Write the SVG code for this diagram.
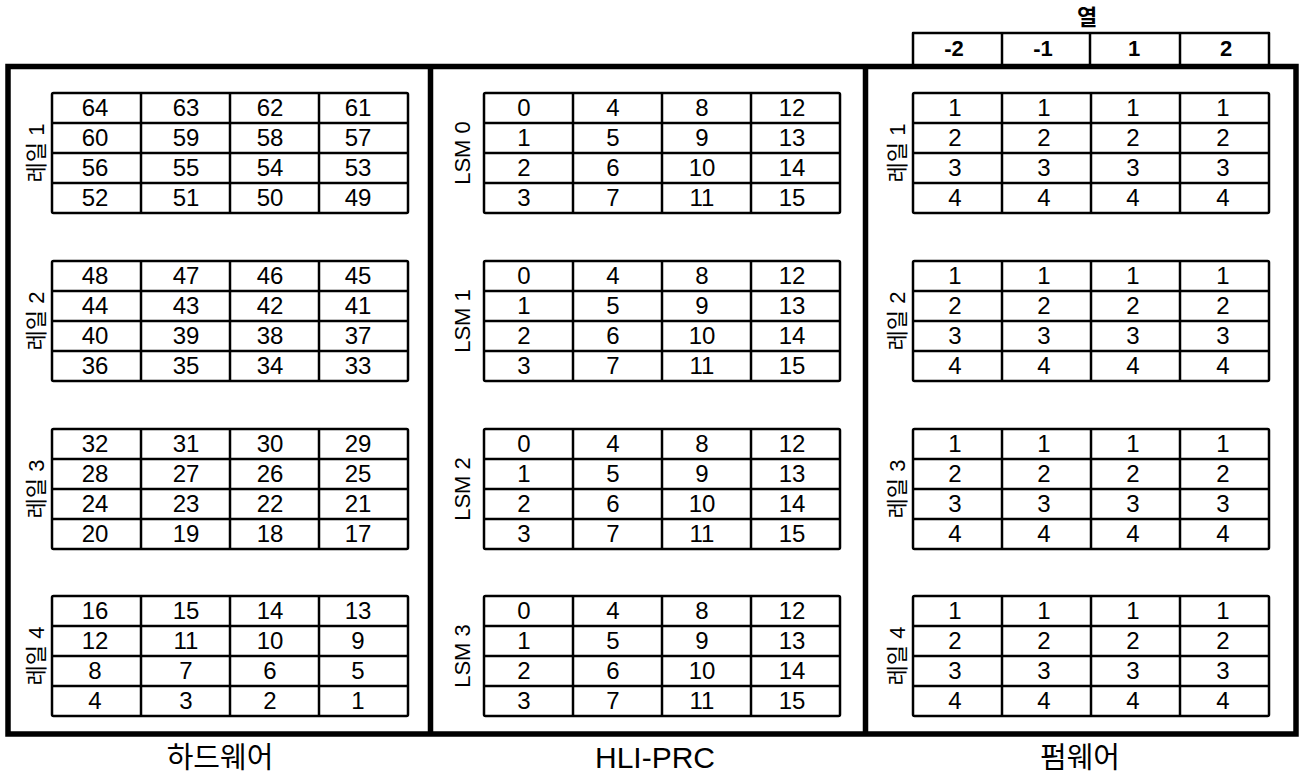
<svg xmlns="http://www.w3.org/2000/svg" xmlns:xlink="http://www.w3.org/1999/xlink" width="1299" height="776" viewBox="0 0 1299 776">
<style>
.n{font-family:"Liberation Sans",Arial,sans-serif;font-size:24px;text-anchor:middle;fill:#000}
.h{font-family:"Liberation Sans",Arial,sans-serif;font-size:22px;font-weight:bold;text-anchor:middle;fill:#000}
.lab{font-family:"Liberation Sans","Noto Sans CJK KR",sans-serif;font-size:22px;text-anchor:middle;dominant-baseline:central;fill:#000}
.cap{font-family:"Liberation Sans","Noto Sans CJK KR",sans-serif;font-size:29px;text-anchor:middle;fill:#000}
.g{fill:none;stroke:#000;stroke-width:2.5;stroke-linejoin:round}
.frame{fill:none;stroke:#000;stroke-width:5.5}
</style>
<defs>
<g id="grid" class="g">
<rect x="0" y="0" width="356" height="120" rx="1.5"/>
<line x1="0" y1="30" x2="356" y2="30"/>
<line x1="0" y1="60" x2="356" y2="60"/>
<line x1="0" y1="90" x2="356" y2="90"/>
<line x1="89" y1="0" x2="89" y2="120"/>
<line x1="178" y1="0" x2="178" y2="120"/>
<line x1="267" y1="0" x2="267" y2="120"/>
</g>
</defs>

<g id="frame">
<rect class="frame" x="8" y="66.5" width="1288" height="667.5"/>
<line class="frame" x1="430.5" y1="66.5" x2="430.5" y2="734"/>
<line class="frame" x1="865.5" y1="66.5" x2="865.5" y2="734"/>
</g>

<g id="header">
<text class="lab" x="1087" y="17" style="font-weight:bold">열</text>
<g class="g">
<path d="M913 66 V33 H1269 V66"/>
<line x1="1002" y1="33" x2="1002" y2="66"/>
<line x1="1090" y1="33" x2="1090" y2="66"/>
<line x1="1180" y1="33" x2="1180" y2="66"/>
</g>
<text class="h" y="56"><tspan x="954">-2</tspan><tspan x="1043">-1</tspan><tspan x="1134">1</tspan><tspan x="1226">2</tspan></text>
</g>

<g id="hardware">
<g id="rail1-hw">
<use xlink:href="#grid" x="52" y="93"/>
<text class="lab" transform="translate(36,153) rotate(-90)">레일 1</text>
<text class="n" y="115.5"><tspan x="95">64</tspan><tspan x="186">63</tspan><tspan x="270">62</tspan><tspan x="358">61</tspan></text>
<text class="n" y="145.5"><tspan x="95">60</tspan><tspan x="186">59</tspan><tspan x="270">58</tspan><tspan x="358">57</tspan></text>
<text class="n" y="175.5"><tspan x="95">56</tspan><tspan x="186">55</tspan><tspan x="270">54</tspan><tspan x="358">53</tspan></text>
<text class="n" y="205.5"><tspan x="95">52</tspan><tspan x="186">51</tspan><tspan x="270">50</tspan><tspan x="358">49</tspan></text>
</g>
<g id="rail2-hw">
<use xlink:href="#grid" x="52" y="261"/>
<text class="lab" transform="translate(36,321) rotate(-90)">레일 2</text>
<text class="n" y="283.5"><tspan x="95">48</tspan><tspan x="186">47</tspan><tspan x="270">46</tspan><tspan x="358">45</tspan></text>
<text class="n" y="313.5"><tspan x="95">44</tspan><tspan x="186">43</tspan><tspan x="270">42</tspan><tspan x="358">41</tspan></text>
<text class="n" y="343.5"><tspan x="95">40</tspan><tspan x="186">39</tspan><tspan x="270">38</tspan><tspan x="358">37</tspan></text>
<text class="n" y="373.5"><tspan x="95">36</tspan><tspan x="186">35</tspan><tspan x="270">34</tspan><tspan x="358">33</tspan></text>
</g>
<g id="rail3-hw">
<use xlink:href="#grid" x="52" y="429"/>
<text class="lab" transform="translate(36,489) rotate(-90)">레일 3</text>
<text class="n" y="451.5"><tspan x="95">32</tspan><tspan x="186">31</tspan><tspan x="270">30</tspan><tspan x="358">29</tspan></text>
<text class="n" y="481.5"><tspan x="95">28</tspan><tspan x="186">27</tspan><tspan x="270">26</tspan><tspan x="358">25</tspan></text>
<text class="n" y="511.5"><tspan x="95">24</tspan><tspan x="186">23</tspan><tspan x="270">22</tspan><tspan x="358">21</tspan></text>
<text class="n" y="541.5"><tspan x="95">20</tspan><tspan x="186">19</tspan><tspan x="270">18</tspan><tspan x="358">17</tspan></text>
</g>
<g id="rail4-hw">
<use xlink:href="#grid" x="52" y="596"/>
<text class="lab" transform="translate(36,656) rotate(-90)">레일 4</text>
<text class="n" y="618.5"><tspan x="95">16</tspan><tspan x="186">15</tspan><tspan x="270">14</tspan><tspan x="358">13</tspan></text>
<text class="n" y="648.5"><tspan x="95">12</tspan><tspan x="186">11</tspan><tspan x="270">10</tspan><tspan x="358">9</tspan></text>
<text class="n" y="678.5"><tspan x="95">8</tspan><tspan x="186">7</tspan><tspan x="270">6</tspan><tspan x="358">5</tspan></text>
<text class="n" y="708.5"><tspan x="95">4</tspan><tspan x="186">3</tspan><tspan x="270">2</tspan><tspan x="358">1</tspan></text>
</g>
<text class="cap" x="220" y="768">하드웨어</text>
</g>

<g id="hli-prc">
<g id="lsm0">
<use xlink:href="#grid" x="484" y="93"/>
<text class="lab" transform="translate(462,153) rotate(-90)">LSM 0</text>
<text class="n" y="115.5"><tspan x="524">0</tspan><tspan x="613">4</tspan><tspan x="702">8</tspan><tspan x="792">12</tspan></text>
<text class="n" y="145.5"><tspan x="524">1</tspan><tspan x="613">5</tspan><tspan x="702">9</tspan><tspan x="792">13</tspan></text>
<text class="n" y="175.5"><tspan x="524">2</tspan><tspan x="613">6</tspan><tspan x="702">10</tspan><tspan x="792">14</tspan></text>
<text class="n" y="205.5"><tspan x="524">3</tspan><tspan x="613">7</tspan><tspan x="702">11</tspan><tspan x="792">15</tspan></text>
</g>
<g id="lsm1">
<use xlink:href="#grid" x="484" y="261"/>
<text class="lab" transform="translate(462,321) rotate(-90)">LSM 1</text>
<text class="n" y="283.5"><tspan x="524">0</tspan><tspan x="613">4</tspan><tspan x="702">8</tspan><tspan x="792">12</tspan></text>
<text class="n" y="313.5"><tspan x="524">1</tspan><tspan x="613">5</tspan><tspan x="702">9</tspan><tspan x="792">13</tspan></text>
<text class="n" y="343.5"><tspan x="524">2</tspan><tspan x="613">6</tspan><tspan x="702">10</tspan><tspan x="792">14</tspan></text>
<text class="n" y="373.5"><tspan x="524">3</tspan><tspan x="613">7</tspan><tspan x="702">11</tspan><tspan x="792">15</tspan></text>
</g>
<g id="lsm2">
<use xlink:href="#grid" x="484" y="429"/>
<text class="lab" transform="translate(462,489) rotate(-90)">LSM 2</text>
<text class="n" y="451.5"><tspan x="524">0</tspan><tspan x="613">4</tspan><tspan x="702">8</tspan><tspan x="792">12</tspan></text>
<text class="n" y="481.5"><tspan x="524">1</tspan><tspan x="613">5</tspan><tspan x="702">9</tspan><tspan x="792">13</tspan></text>
<text class="n" y="511.5"><tspan x="524">2</tspan><tspan x="613">6</tspan><tspan x="702">10</tspan><tspan x="792">14</tspan></text>
<text class="n" y="541.5"><tspan x="524">3</tspan><tspan x="613">7</tspan><tspan x="702">11</tspan><tspan x="792">15</tspan></text>
</g>
<g id="lsm3">
<use xlink:href="#grid" x="484" y="596"/>
<text class="lab" transform="translate(462,656) rotate(-90)">LSM 3</text>
<text class="n" y="618.5"><tspan x="524">0</tspan><tspan x="613">4</tspan><tspan x="702">8</tspan><tspan x="792">12</tspan></text>
<text class="n" y="648.5"><tspan x="524">1</tspan><tspan x="613">5</tspan><tspan x="702">9</tspan><tspan x="792">13</tspan></text>
<text class="n" y="678.5"><tspan x="524">2</tspan><tspan x="613">6</tspan><tspan x="702">10</tspan><tspan x="792">14</tspan></text>
<text class="n" y="708.5"><tspan x="524">3</tspan><tspan x="613">7</tspan><tspan x="702">11</tspan><tspan x="792">15</tspan></text>
</g>
<text class="cap" x="655" y="768" style="font-size:30px">HLI-PRC</text>
</g>

<g id="firmware">
<g id="rail1-fw">
<use xlink:href="#grid" x="913" y="93"/>
<text class="lab" transform="translate(897,153) rotate(-90)">레일 1</text>
<text class="n" y="115.5"><tspan x="955">1</tspan><tspan x="1044">1</tspan><tspan x="1133">1</tspan><tspan x="1223">1</tspan></text>
<text class="n" y="145.5"><tspan x="955">2</tspan><tspan x="1044">2</tspan><tspan x="1133">2</tspan><tspan x="1223">2</tspan></text>
<text class="n" y="175.5"><tspan x="955">3</tspan><tspan x="1044">3</tspan><tspan x="1133">3</tspan><tspan x="1223">3</tspan></text>
<text class="n" y="205.5"><tspan x="955">4</tspan><tspan x="1044">4</tspan><tspan x="1133">4</tspan><tspan x="1223">4</tspan></text>
</g>
<g id="rail2-fw">
<use xlink:href="#grid" x="913" y="261"/>
<text class="lab" transform="translate(897,321) rotate(-90)">레일 2</text>
<text class="n" y="283.5"><tspan x="955">1</tspan><tspan x="1044">1</tspan><tspan x="1133">1</tspan><tspan x="1223">1</tspan></text>
<text class="n" y="313.5"><tspan x="955">2</tspan><tspan x="1044">2</tspan><tspan x="1133">2</tspan><tspan x="1223">2</tspan></text>
<text class="n" y="343.5"><tspan x="955">3</tspan><tspan x="1044">3</tspan><tspan x="1133">3</tspan><tspan x="1223">3</tspan></text>
<text class="n" y="373.5"><tspan x="955">4</tspan><tspan x="1044">4</tspan><tspan x="1133">4</tspan><tspan x="1223">4</tspan></text>
</g>
<g id="rail3-fw">
<use xlink:href="#grid" x="913" y="429"/>
<text class="lab" transform="translate(897,489) rotate(-90)">레일 3</text>
<text class="n" y="451.5"><tspan x="955">1</tspan><tspan x="1044">1</tspan><tspan x="1133">1</tspan><tspan x="1223">1</tspan></text>
<text class="n" y="481.5"><tspan x="955">2</tspan><tspan x="1044">2</tspan><tspan x="1133">2</tspan><tspan x="1223">2</tspan></text>
<text class="n" y="511.5"><tspan x="955">3</tspan><tspan x="1044">3</tspan><tspan x="1133">3</tspan><tspan x="1223">3</tspan></text>
<text class="n" y="541.5"><tspan x="955">4</tspan><tspan x="1044">4</tspan><tspan x="1133">4</tspan><tspan x="1223">4</tspan></text>
</g>
<g id="rail4-fw">
<use xlink:href="#grid" x="913" y="596"/>
<text class="lab" transform="translate(897,656) rotate(-90)">레일 4</text>
<text class="n" y="618.5"><tspan x="955">1</tspan><tspan x="1044">1</tspan><tspan x="1133">1</tspan><tspan x="1223">1</tspan></text>
<text class="n" y="648.5"><tspan x="955">2</tspan><tspan x="1044">2</tspan><tspan x="1133">2</tspan><tspan x="1223">2</tspan></text>
<text class="n" y="678.5"><tspan x="955">3</tspan><tspan x="1044">3</tspan><tspan x="1133">3</tspan><tspan x="1223">3</tspan></text>
<text class="n" y="708.5"><tspan x="955">4</tspan><tspan x="1044">4</tspan><tspan x="1133">4</tspan><tspan x="1223">4</tspan></text>
</g>
<text class="cap" x="1080" y="768">펌웨어</text>
</g>
</svg>
